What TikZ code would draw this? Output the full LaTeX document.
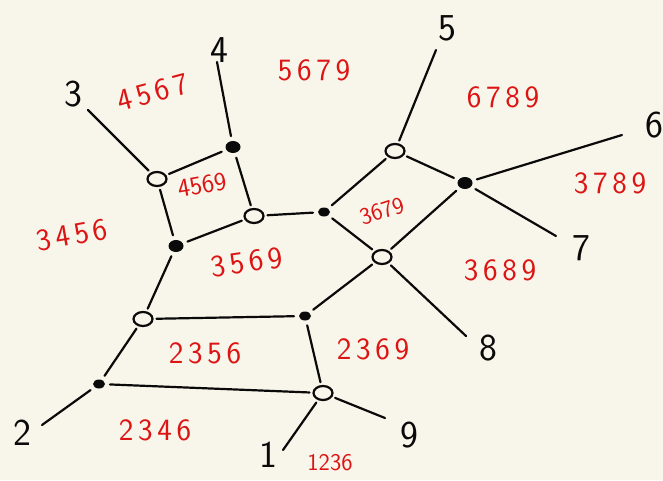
\documentclass[tikz,border=0pt]{standalone}
\usepackage{fontspec}
\usepackage{xcolor}
\usepackage{tikz}
\usetikzlibrary{shapes.geometric,positioning,calc}
\definecolor{papercream}{RGB}{248, 246, 234}
\definecolor{inkblack}{RGB}{10, 10, 10}
\definecolor{facered}{RGB}{220, 20, 20}
% wide handwriting-like spacing between digits
\newcommand{\spaced}[1]{\spacedfirst#1\relax}
\def\spacedfirst#1{#1\spacedrest}
\def\spacedrest#1{\ifx#1\relax\else\kern0.15em#1\expandafter\spacedrest\fi}

\begin{document}
\begin{tikzpicture}[x=1pt,y=-1pt,
    edge/.style={line width=2.2pt,inkblack,line cap=round},
    wv/.style={draw,ellipse,line width=2.2pt,inkblack,minimum width=19pt,minimum height=14pt,inner sep=0pt,outer sep=4pt},
    bv/.style={fill=inkblack,ellipse,minimum width=15pt,minimum height=12pt,inner sep=0pt,outer sep=5pt},
    sbv/.style={bv,minimum width=12pt,minimum height=9pt},
    leg/.style={inkblack,font=\fontsize{38}{38}\selectfont\sffamily},
    face/.style={facered,font=\fontsize{31}{31}\selectfont\sffamily}]
    % paper
    \fill[papercream] (0,0) rectangle (663,480);
    \useasboundingbox (0,0) rectangle (663,480);

    % vertices
    \node[wv] (w3) at (157,179) {};
    \node[bv] (b4) at (233,147) {};
    \node[wv] (w1) at (254,216) {};
    \node[bv] (b2) at (176,246) {};
    \node[sbv] (b5) at (324,212) {};
    \node[wv] (w5) at (395,151) {};
    \node[bv] (b6) at (465,183) {};
    \node[wv] (w6) at (382,257) {};
    \node[sbv] (b7) at (305,316) {};
    \node[wv] (w7) at (323,393) {};
    \node[wv] (w2) at (143,319) {};
    \node[sbv] (b1) at (99,384) {};

    % ends of the external legs
    \coordinate (e3) at (88,110);
    \coordinate (e4) at (217,62);
    \coordinate (e5) at (436,50);
    \coordinate (e6) at (622,135);
    \coordinate (e7) at (556,236);
    \coordinate (e8) at (466,336);
    \coordinate (e9) at (385,418);
    \coordinate (e1) at (283,450);
    \coordinate (e2) at (42,425);

    % internal edges
    \draw[edge] (w3) -- (b4);
    \draw[edge] (w3) -- (b2);
    \draw[edge] (b4) -- (w1);
    \draw[edge] (b2) -- (w1);
    \draw[edge] (w1) -- (b5);
    \draw[edge] (b5) -- (w5);
    \draw[edge] (b5) -- (w6);
    \draw[edge] (w5) -- (b6);
    \draw[edge] (b6) -- (w6);
    \draw[edge] (w6) -- (b7);
    \draw[edge] (b2) -- (w2);
    \draw[edge] (w2) -- (b7);
    \draw[edge] (w2) -- (b1);
    \draw[edge] (b7) -- (w7);
    \draw[edge] (b1) -- (w7);

    % external legs
    \draw[edge] (w3) -- (e3);
    \draw[edge] (b4) -- (e4);
    \draw[edge] (w5) -- (e5);
    \draw[edge] (b6) -- (e6);
    \draw[edge] (b6) -- (e7);
    \draw[edge] (w6) -- (e8);
    \draw[edge] (w7) -- (e9);
    \draw[edge] (w7) -- (e1);
    \draw[edge] (b1) -- (e2);

    % leg labels
    \node[leg] (l1) at (268,455) {1};
    \node[leg] (l2) at (22,433) {2};
    \node[leg] (l3) at (73,94) {3};
    \node[leg] (l4) at (219,50) {4};
    \node[leg] (l5) at (447,28) {5};
    \node[leg] (l6) at (654,125) {6};
    \node[leg] (l7) at (581,248) {7};
    \node[leg] (l8) at (488,348) {8};
    \node[leg] (l9) at (409,435) {9};

    % face labels
    \node[face,rotate=15] (f4567) at (153,92) {\spaced{4567}};
    \node[face] (f5679) at (314,70) {\spaced{5679}};
    \node[face] (f6789) at (503,97) {\spaced{6789}};
    \node[face] (f3789) at (610,183) {\spaced{3789}};
    \node[face,rotate=10] (f3456) at (72,235) {\spaced{3456}};
    \node[face,rotate=10,font=\fontsize{26}{26}\selectfont\sffamily] (f4569) at (202,185) {4569};
    \node[face,rotate=18,font=\fontsize{24}{24}\selectfont\sffamily] (f3679) at (382,211) {3679};
    \node[face,rotate=8] (f3569) at (247,262) {\spaced{3569}};
    \node[face] (f3689) at (500,270) {\spaced{3689}};
    \node[face] (f2356) at (205,353) {\spaced{2356}};
    \node[face] (f2369) at (373,349) {\spaced{2369}};
    \node[face] (f2346) at (155,430) {\spaced{2346}};
    \node[face,font=\fontsize{24}{24}\selectfont\sffamily] (f1236) at (330,463) {1236};
\end{tikzpicture}
\end{document}
